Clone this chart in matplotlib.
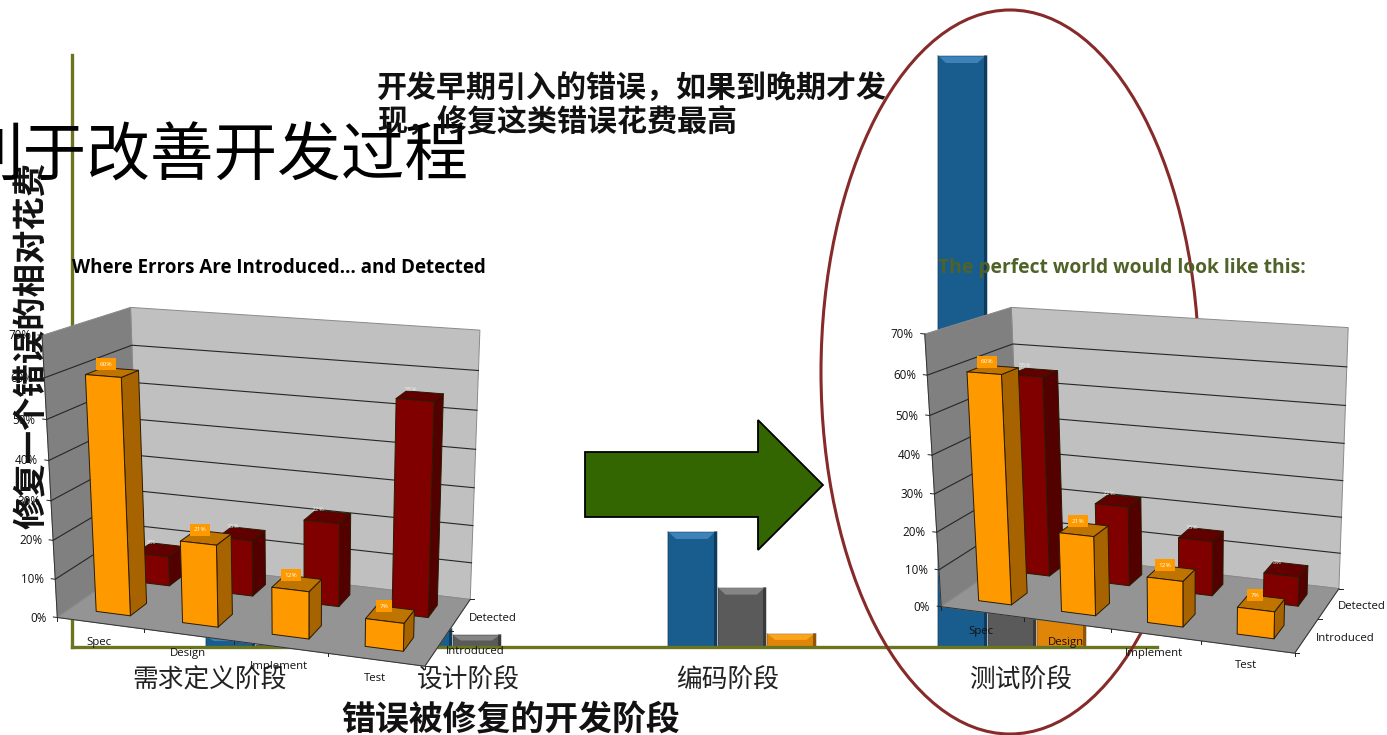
import numpy as np
import matplotlib
matplotlib.use("Agg")
import matplotlib.pyplot as plt
from matplotlib.patches import Polygon, Ellipse

# Relative cost of fixing an error, by the phase in which it is repaired
fix_phases = ["需求定义阶段", "设计阶段", "编码阶段", "测试阶段"]
cost_early = [2, 3.2, 19.6, 100]
cost_mid = [0.5, 2.2, 10.2, 25]
cost_late = [0, 0, 2.4, 10]

# Share of errors per development stage
stages = ["Spec", "Design", "Implement", "Test"]
depth_names = ["Introduced", "Detected"]
percent_ticks = [0, 10, 20, 30, 40, 50, 60, 70]
introduced = [60, 21, 12, 7]
detected_actual = [8, 15, 22, 55]
detected_ideal = [55, 22, 15, 8]

CJK = ["Noto Sans CJK SC", "DejaVu Sans"]
LATIN = ["Open Sans", "DejaVu Sans"]
W, H = 1387, 735

# Pixel placement of the background chart
GROUP_LEFT = [205, 402, 667, 937]
GROUP_LABEL_X = [210, 468, 728, 1021]
BAR_W = 49.5
AX_L, AX_R, AX_T, AX_B = 72, 1157, 55, 647

# Pixel corners of the two perspective plot boxes, as (u, v, w) -> (x, y)
BOX_LEFT = {(0, 0, 0): (55, 616), (0, 0, 1): (43.3, 333.3), (1, 0, 0): (425, 666), (1, 0, 1): (434, 368),
            (0, 1, 0): (141.7, 562), (0, 1, 1): (129.3, 309),
            (1, 1, 0): (470, 599.3), (1, 1, 1): (479, 326.7)}
BOX_RIGHT = {(0, 0, 0): (938.3, 605), (0, 0, 1): (926.7, 332.7), (1, 0, 0): (1295, 653.3), (1, 0, 1): (1303, 362.8),
             (0, 1, 0): (1024, 553.3), (0, 1, 1): (1009.3, 308.3),
             (1, 1, 0): (1338.3, 588.3), (1, 1, 1): (1347.7, 325)}

fig = plt.figure(figsize=(W / 100, H / 100), dpi=100, facecolor="white")

# Background column chart with bevelled bars
ax_cost = fig.add_axes([AX_L / W, 1 - AX_B / H, (AX_R - AX_L) / W, (AX_B - AX_T) / H], zorder=1)
ax_cost.set_xlim(AX_L, AX_R)
ax_cost.set_ylim(0, 100)
px_y = 100 / (AX_B - AX_T)
for spine in ("top", "right"):
    ax_cost.spines[spine].set_visible(False)
for spine in ("left", "bottom"):
    ax_cost.spines[spine].set_color("#6B7520")
    ax_cost.spines[spine].set_linewidth(2.4)
ax_cost.set_yticks([])
ax_cost.set_xticks(GROUP_LABEL_X)
ax_cost.set_xticklabels(fix_phases, family=CJK, fontsize=18.5, color="#222222")
ax_cost.tick_params(axis="x", length=0, pad=14)
ax_cost.set_xlabel("错误被修复的开发阶段", family=CJK, fontsize=24.4, fontweight="bold", color="#111111")
ax_cost.xaxis.set_label_coords((511 - AX_L) / (AX_R - AX_L), -(719 - AX_B) / (AX_B - AX_T))
ax_cost.xaxis.label.set_va("center")
ax_cost.set_ylabel("修复一个错误的相对花费", family=CJK, fontsize=24, fontweight="bold", color="#111111")
ax_cost.yaxis.set_label_coords((33 - AX_L) / (AX_R - AX_L), (AX_B - 345) / (AX_B - AX_T))
ax_cost.yaxis.label.set_va("center")


def bevel_bar(left, value, body, light, slot):
    if value <= 0:
        return
    x0 = left + slot * BAR_W
    x1 = x0 + BAR_W
    ax_cost.bar(x0, value, BAR_W, align="edge", color=body, edgecolor="#cfd6dc", linewidth=0.6, zorder=1)
    ax_cost.bar(x1 - 3, value, 3, align="edge", color="#000000", alpha=0.35, linewidth=0, zorder=1.1)
    ax_cost.bar(x0, value, 2, align="edge", color="#000000", alpha=0.12, linewidth=0, zorder=1.1)
    strip = min(8 * px_y, value * 0.5)
    ax_cost.add_patch(Polygon([(x0 + 2, value - 1.5 * px_y), (x1 - 2, value - 1.5 * px_y),
                               (x1 - 9, value - strip), (x0 + 9, value - strip)],
                              closed=True, facecolor=light, edgecolor="none", zorder=1.2))


for left, e, m, l in zip(GROUP_LEFT, cost_early, cost_mid, cost_late):
    bevel_bar(left, e, "#185D8E", "#3F82B8", 0)
    bevel_bar(left, m, "#5A5A5A", "#858585", 1)
    bevel_bar(left, l, "#E08508", "#F9A61E", 2)

# Overlay layer in pixel coordinates
ax = fig.add_axes([0, 0, 1, 1], zorder=2)
ax.set_xlim(0, W)
ax.set_ylim(H, 0)
ax.axis("off")
ax.patch.set_alpha(0)

ax.text(468, 157, "利于改善开发过程", family=CJK, fontsize=45.8, ha="right", va="center",
        color="black", zorder=2)
ax.text(377, 105, "开发早期引入的错误，如果到晚期才发\n现，修复这类错误花费最高", family=CJK,
        fontsize=21.6, fontweight="bold", ha="left", va="center", color="#111111",
        linespacing=1.12, zorder=2)
ax.add_patch(Ellipse((1010, 372), 378, 724, facecolor="none", edgecolor="#862A2A",
                     linewidth=2.2, zorder=3))


def fit_camera(corners):
    """Least-squares projective camera from known box corners."""
    rows, rhs = [], []
    for (u, v, w), (x, y) in corners.items():
        rows.append([u, v, w, 1, 0, 0, 0, 0, -x * u, -x * v, -x * w])
        rhs.append(x)
        rows.append([0, 0, 0, 0, u, v, w, 1, -y * u, -y * v, -y * w])
        rhs.append(y)
    p = np.linalg.lstsq(np.array(rows, float), np.array(rhs, float), rcond=None)[0]

    def project(u, v, w):
        d = p[8] * u + p[9] * v + p[10] * w + 1
        return ((p[0] * u + p[1] * v + p[2] * w + p[3]) / d,
                (p[4] * u + p[5] * v + p[6] * w + p[7]) / d)
    return project


def box3d(project, u0, u1, v0, v1, top, front, side, cap, z):
    edge = dict(edgecolor="#2a1a00", linewidth=0.7, zorder=z, joinstyle="round")
    ax.add_patch(Polygon([project(u1, v0, 0), project(u1, v1, 0), project(u1, v1, top), project(u1, v0, top)],
                         facecolor=side, **edge))
    ax.add_patch(Polygon([project(u0, v0, top), project(u1, v0, top), project(u1, v1, top), project(u0, v1, top)],
                         facecolor=cap, **edge))
    ax.add_patch(Polygon([project(u0, v0, 0), project(u1, v0, 0), project(u1, v0, top), project(u0, v0, top)],
                         facecolor=front, **edge))


def perspective_chart(corners, front_vals, back_vals):
    project = fit_camera(corners)
    z = 5
    frame = dict(edgecolor="#8a8a8a", linewidth=0.7, zorder=z)
    ax.add_patch(Polygon([project(0, 1, 0), project(1, 1, 0), project(1, 1, 1), project(0, 1, 1)],
                         facecolor="#C0C0C0", **frame))
    ax.add_patch(Polygon([project(0, 0, 0), project(0, 1, 0), project(0, 1, 1), project(0, 0, 1)],
                         facecolor="#808080", **frame))
    ax.add_patch(Polygon([project(0, 0, 0), project(1, 0, 0), project(1, 1, 0), project(0, 1, 0)],
                         facecolor="#949494", **frame))
    top_pct = percent_ticks[-1]
    for pct in percent_ticks:
        w = pct / top_pct
        if 0 < pct < top_pct:
            pts = [project(0, 0, w), project(0, 1, w), project(1, 1, w)]
            ax.plot(*zip(*pts), color="#262626", lw=0.8, zorder=z + 0.1)
        x, y = project(0, 0, w)
        ax.plot([x - 4, x], [y - 0.5, y], color="#222222", lw=0.7, zorder=z + 0.1, clip_on=False)
        ax.text(x - 11, y + 0.5, f"{pct}%", family=LATIN, fontsize=8.4, color="#111111",
                ha="right", va="center", zorder=9)
    # Axis lines and tick marks along the floor edges
    n = len(stages)
    ax.plot(*zip(project(0, 0, 0), project(1, 0, 0), project(1, 1, 0)), color="#333333", lw=0.7, zorder=z + 0.1)
    ax.plot(*zip(project(0, 0, 0), project(0, 0, 1)), color="#333333", lw=0.7, zorder=z + 0.1)
    for i in range(n + 1):
        x, y = project(i / n, 0, 0)
        ax.plot([x, x], [y, y + 3], color="#222222", lw=0.7, zorder=z + 0.1)
    for k in range(len(depth_names) + 1):
        x, y = project(1, k / len(depth_names), 0)
        ax.plot([x, x + 4], [y, y], color="#222222", lw=0.7, zorder=z + 0.1)
    for i, name in enumerate(stages):
        x, y = project((i + 0.5) / n, 0, 0)
        ax.text(x - 1, y + 19, name, family=LATIN, fontsize=8.2, color="#111111",
                ha="center", va="center", zorder=9)
    for k, name in enumerate(depth_names):
        x, y = project(1, (k + 0.5) / len(depth_names), 0)
        ax.text(x + 9, y + 3.5, name, family=LATIN, fontsize=8.2, color="#111111",
                ha="left", va="center", zorder=9)

    # Back row first so the front row overlaps it
    rows = [(1, back_vals, "#800000", "#530000", "#600000"),
            (0, front_vals, "#FF9900", "#A66300", "#BF7300")]
    for k, vals, front, side, cap in rows:
        for i, val in enumerate(vals):
            u0, u1 = (i + 0.3) / n, (i + 0.7) / n
            v0, v1 = (k + 0.3) / 2, (k + 0.7) / 2
            top = val / top_pct
            box3d(project, u0, u1, v0, v1, top, front, side, cap, z + 0.5 + (1 - k))
            cx, cy = project((u0 + u1) / 2, (v0 + v1) / 2, top)
            if k == 0:
                ax.text(cx - 6, cy - 8, f"{val}%", family=LATIN, fontsize=4.6, color="white",
                        ha="center", va="center", zorder=z + 3,
                        bbox=dict(boxstyle="square,pad=0.55", facecolor="#FF9900", edgecolor="none"))
            else:
                ax.text(cx - 9, cy - 7, f"{val}%", family=LATIN, fontsize=4.6, color="#eeeeee",
                        ha="center", va="center", zorder=z + 1.4)


perspective_chart(BOX_LEFT, introduced, detected_actual)
perspective_chart(BOX_RIGHT, introduced, detected_ideal)

ax.text(72, 268, "Where Errors Are Introduced… and Detected", family=LATIN, fontsize=13.5,
        fontweight="bold", color="black", ha="left", va="center", zorder=10)
ax.text(938, 268, "The perfect world would look like this:", family=LATIN, fontsize=13.9,
        fontweight="bold", color="#4F6228", ha="left", va="center", zorder=10)

# Block arrow between the two charts
ax.add_patch(Polygon([(585, 452), (758, 452), (758, 420), (823, 485), (758, 550), (758, 517), (585, 517)],
                     closed=True, facecolor="#336600", edgecolor="black", linewidth=1.3, zorder=8))

fig.savefig("out.png", dpi=100, facecolor="white")
